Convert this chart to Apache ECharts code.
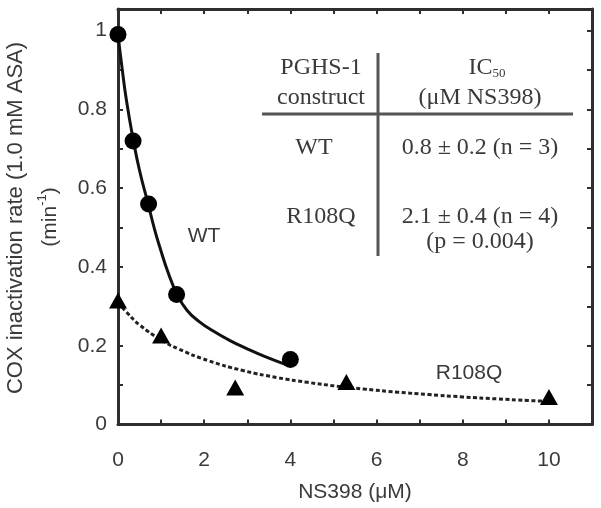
<!DOCTYPE html>
<html>
<head>
<meta charset="utf-8">
<script src="https://cdn.jsdelivr.net/npm/echarts@6/dist/echarts.min.js"></script>
<style>
html,body{margin:0;padding:0;background:#fff;}
#chart{width:601px;height:508px;}
</style>
</head>
<body>
<div id="chart"></div>
<script>
// ---- Data ----
var wtX = [0, 0.35, 0.71, 1.36, 4.0];
var wtY = [0.99, 0.72, 0.56, 0.33, 0.165];
var r108qX = [0, 1.0, 2.72, 5.3, 10.0];
var r108qY = [0.315, 0.226, 0.094, 0.108, 0.07];
var wtFitX = [0, 0.1, 0.2, 0.35, 0.5, 0.7, 0.85, 1.0, 1.15, 1.36, 1.6, 1.9, 2.2, 2.6, 3.0, 3.4, 3.9];
var wtFitY = [0.99, 0.9, 0.82, 0.725, 0.645, 0.56, 0.495, 0.44, 0.39, 0.333, 0.29, 0.26, 0.238, 0.213, 0.192, 0.173, 0.152];
var r108qFitX = [0, 0.2, 0.5, 1.0, 1.4, 2.1, 2.9, 3.7, 4.4, 5.1, 5.7, 6.5, 7.2, 8.0, 8.8, 9.5, 10.2];
var r108qFitY = [0.31, 0.285, 0.253, 0.215, 0.192, 0.162, 0.137, 0.119, 0.107, 0.097, 0.09, 0.082, 0.076, 0.07, 0.065, 0.061, 0.058];
var xTicks = [0, 2, 4, 6, 8, 10];
var yTicks = [0, 0.2, 0.4, 0.6, 0.8, 1];
var tableHeader = ['PGHS-1', 'construct', 'IC', '50', '(\u03bcM NS398)'];
var tableRows = [
  ['WT', '0.8 \u00b1 0.2 (n = 3)'],
  ['R108Q', '2.1 \u00b1 0.4 (n = 4)', '(p = 0.004)']
];

function zip(a, b) { return a.map(function (v, i) { return [v, b[i]]; }); }

var chart = echarts.init(document.getElementById('chart'), null, {renderer: 'canvas'});
var AX = '#2e2e2e';
var TXT = '#3a3a3a';
var SANS = 'Liberation Sans, Arial, sans-serif';
var SERIF = 'Liberation Serif, Times New Roman, serif';

function xFmt(v) {
  for (var i = 0; i < xTicks.length; i++) if (Math.abs(v - xTicks[i]) < 1e-6) return String(xTicks[i]);
  return '';
}
function yFmt(v) {
  for (var i = 0; i < yTicks.length; i++) if (Math.abs(v - yTicks[i]) < 1e-6) return String(yTicks[i]);
  return '';
}

var axisLineStyle = {show: true, onZero: false, lineStyle: {color: AX, width: 3}};
var tickStyle = {show: true, inside: true, length: 5, lineStyle: {color: AX, width: 2}};

function tt(x, y, s, font) {
  return {type: 'text', x: x, y: y,
          style: {text: s, font: font, fill: TXT, align: 'center', verticalAlign: 'middle'}};
}
var SERIF_FONT = '24px ' + SERIF;

var option = {
  backgroundColor: '#fff',
  animation: false,
  grid: {left: 118, right: 9, top: 9, bottom: 83.5, containLabel: false, outerBoundsMode: 'none'},
  xAxis: [
    {type: 'value', position: 'bottom', min: 0, max: 11, interval: 1,
     axisLine: axisLineStyle, axisTick: tickStyle, splitLine: {show: false},
     axisLabel: {formatter: xFmt, fontSize: 21, fontFamily: SANS, color: TXT, margin: 25, showMaxLabel: false},
     name: 'NS398 (\u03bcM)', nameLocation: 'middle', nameGap: 57,
     nameTextStyle: {fontSize: 21, fontFamily: SANS, color: TXT}},
    {type: 'value', position: 'top', min: 0, max: 11, interval: 1,
     axisLine: axisLineStyle, axisTick: tickStyle, splitLine: {show: false},
     axisLabel: {show: false}}
  ],
  yAxis: [
    {type: 'value', position: 'left', min: 0, max: 1.055, interval: 0.1,
     axisLine: axisLineStyle, axisTick: tickStyle, splitLine: {show: false},
     axisLabel: {formatter: yFmt, fontSize: 21, fontFamily: SANS, color: TXT, margin: 11, showMaxLabel: false}},
    {type: 'value', position: 'right', min: 0, max: 1.055, interval: 0.1,
     axisLine: axisLineStyle, axisTick: tickStyle, splitLine: {show: false},
     axisLabel: {show: false}}
  ],
  series: [
    {type: 'line', name: 'WT fit', data: zip(wtFitX, wtFitY), smooth: 0.5, showSymbol: false,
     lineStyle: {color: '#111', width: 3}, z: 2},
    {type: 'line', name: 'R108Q fit', data: zip(r108qFitX, r108qFitY), smooth: 0.5, showSymbol: false,
     lineStyle: {color: '#222', width: 3, type: [4, 2.5]}, z: 2},
    {type: 'scatter', name: 'WT', data: zip(wtX, wtY), symbol: 'circle', symbolSize: 17,
     itemStyle: {color: '#000', opacity: 1}, z: 3},
    {type: 'scatter', name: 'R108Q', data: zip(r108qX, r108qY), symbol: 'triangle', symbolSize: [18, 16],
     itemStyle: {color: '#000', opacity: 1}, z: 3}
  ],
  graphic: [
    {type: 'text', x: 16, y: 218, rotation: Math.PI / 2,
     style: {text: 'COX inactivation rate (1.0 mM ASA)', font: '22px ' + SANS, fill: TXT,
             align: 'center', verticalAlign: 'middle'}},
    {type: 'text', x: 50, y: 217, rotation: Math.PI / 2,
     style: {rich: {n: {fontSize: 21, fontFamily: SANS, fill: TXT}, s: {fontSize: 13, fontFamily: SANS, fill: TXT, verticalAlign: 'top', lineHeight: 28}},
             text: '{n|(min}{s|-1}{n|)}', align: 'center', verticalAlign: 'middle'}},
    tt(204, 236, 'WT', '21px ' + SANS),
    tt(469, 373, 'R108Q', '21px ' + SANS),
    // table
    {type: 'line', shape: {x1: 262, y1: 114, x2: 573, y2: 114}, style: {stroke: '#555', lineWidth: 3}},
    {type: 'line', shape: {x1: 378, y1: 53, x2: 378, y2: 256}, style: {stroke: '#555', lineWidth: 3}},
    tt(321, 68, tableHeader[0], SERIF_FONT),
    tt(321, 98, tableHeader[1], SERIF_FONT),
    {type: 'text', x: 487, y: 68,
     style: {rich: {n: {fontSize: 24, fontFamily: SERIF, fill: TXT}, s: {fontSize: 13, fontFamily: SERIF, fill: TXT, verticalAlign: 'bottom', lineHeight: 14}},
             text: '{n|' + tableHeader[2] + '}{s|' + tableHeader[3] + '}', align: 'center', verticalAlign: 'middle'}},
    tt(480, 98, tableHeader[4], SERIF_FONT),
    tt(314, 148, tableRows[0][0], SERIF_FONT),
    tt(480, 148, tableRows[0][1], SERIF_FONT),
    tt(321, 217, tableRows[1][0], SERIF_FONT),
    tt(480, 217, tableRows[1][1], SERIF_FONT),
    tt(480, 242, tableRows[1][2], SERIF_FONT)
  ]
};
chart.setOption(option);
</script>
</body>
</html>
